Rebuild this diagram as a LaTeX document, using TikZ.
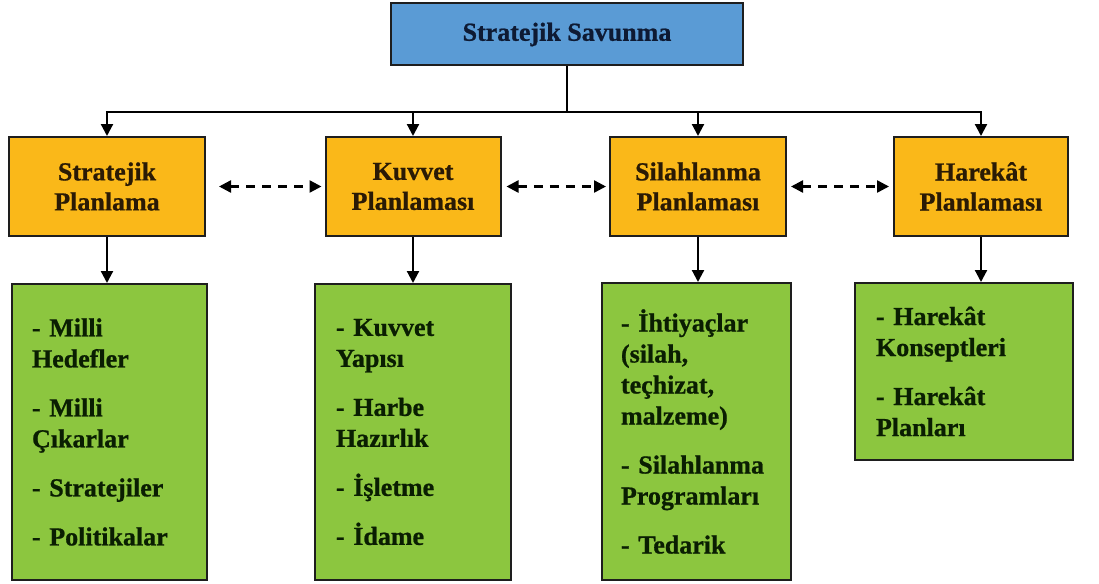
\documentclass[tikz,border=0pt]{standalone}
\usepackage{fontspec}
\setmainfont{Liberation Serif}[BoldFeatures={FakeBold=0.8}]
\usetikzlibrary{arrows.meta}
\definecolor{topblue}{HTML}{5A9BD5}
\definecolor{midgold}{HTML}{FAB819}
\definecolor{leafgreen}{HTML}{8CC63F}
\definecolor{edgedark}{HTML}{1E1E1E}
\definecolor{toptext}{HTML}{0E1A33}
\definecolor{goldtext}{HTML}{2A1A05}
\definecolor{greentext}{HTML}{0A1E02}
\begin{document}
\begin{tikzpicture}[x=1pt,y=-1pt,
  box/.style={draw=edgedark, line width=2pt, inner sep=0pt},
  topbox/.style={box, fill=topblue, minimum width=352pt, minimum height=62pt,
    font=\bfseries\fontsize{26}{30}\selectfont, text=toptext},
  planbox/.style={box, fill=midgold, minimum width=176pt, minimum height=99pt,
    align=center, font=\bfseries\fontsize{26}{30}\selectfont, text=goldtext},
  listbox/.style={box, fill=leafgreen, align=left, inner xsep=20pt,
    font=\bfseries\fontsize{26}{31}\selectfont, text=greentext},
  link/.style={draw=black, line width=2.2pt, -{Triangle[length=12pt,width=12pt]}},
  busline/.style={draw=black, line width=2.2pt},
  bilink/.style={draw=black, line width=2.4pt, dash pattern=on 9pt off 7pt,
    {Triangle[length=12pt,width=12pt]}-{Triangle[length=12pt,width=12pt]}}
]
\useasboundingbox[fill=white] (0,0) rectangle (1099,583);

\node[topbox] (top) at (567,34.5) {Stratejik Savunma};

\node[planbox, minimum width=196pt] (o1) at (107,186.5) {Stratejik\\Planlama};
\node[planbox, minimum width=175pt] (o2) at (413,186.5) {Kuvvet\\Planlaması};
\node[planbox, minimum width=176pt] (o3) at (698,186.5) {Silahlanma\\Planlaması};
\node[planbox, minimum width=174pt] (o4) at (981,186.5) {Harekât\\Planlaması};

\node[listbox, text width=155pt, minimum height=296pt] (g1) at (109.5,432)
  {- Milli\\Hedefler\\[18pt]- Milli\\Çıkarlar\\[18pt]- Stratejiler\\[18pt]- Politikalar};
\node[listbox, inner xsep=21pt, text width=154pt, minimum height=296pt] (g2) at (413,432)
  {- Kuvvet\\Yapısı\\[18pt]- Harbe\\Hazırlık\\[18pt]- İşletme\\[18pt]- İdame};
\node[listbox, inner xsep=19pt, text width=151pt, minimum height=297pt] (g3) at (696.5,431.5)
  {- İhtiyaçlar\\(silah,\\teçhizat,\\malzeme)\\[18pt]- Silahlanma\\Programları\\[18pt]- Tedarik};
\node[listbox, inner xsep=21pt, text width=176pt, minimum height=177pt] (g4) at (964,371.5)
  {- Harekât\\Konseptleri\\[18pt]- Harekât\\Planları};

\coordinate (bus) at (567,112);
\draw[busline] (top.south) -- (bus);
\draw[busline] ([xshift=-1.1pt]o1.north |- bus) -- ([xshift=1.1pt]o4.north |- bus);
\foreach \n in {o1,o2,o3,o4}{
  \draw[link] (\n.north |- bus) -- (\n.north);
}

\draw[link] (o1.south) -- (o1.south |- g1.north);
\draw[link] (o2.south) -- (o2.south |- g2.north);
\draw[link] (o3.south) -- (o3.south |- g3.north);
\draw[link] (o4.south) -- (o4.south |- g4.north);

\draw[bilink, shorten <=13pt, shorten >=3pt] (o1.east) -- (o2.west);
\draw[bilink, shorten <=5pt, shorten >=3pt] (o2.east) -- (o3.west);
\draw[bilink, shorten <=4pt, shorten >=4pt] (o3.east) -- (o4.west);
\end{tikzpicture}
\end{document}
